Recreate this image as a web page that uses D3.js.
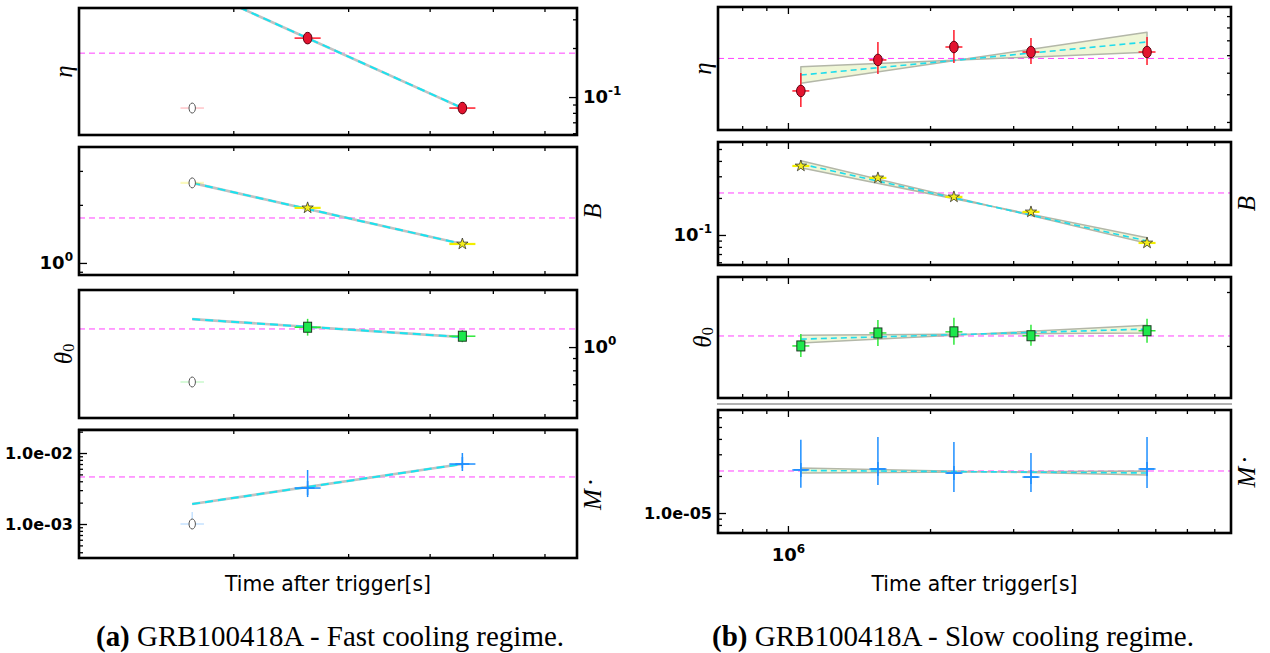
<!DOCTYPE html>
<html>
<head>
<meta charset="utf-8">
<script src="https://cdn.jsdelivr.net/npm/d3@7"></script>
<style>
  html, body { margin: 0; padding: 0; background: #fff; }
  svg { display: block; }
</style>
</head>
<body>
<div id="chart"></div>
<script>
// (a) fast cooling regime
const fastTime = [1.73e5, 2.6e5, 4.49e5]
const fastTimeErr = [0.018, 0.02, 0.02] // dex
const fastUsed = [false, true, true]
const fastTimeRange = [1.16e5, 6.73e5]

const fastEta = [0.0856, 0.230, 0.0856]
const fastEtaErr = [0.025, 0.03, 0.037]
const fastEtaFit = [0.48, 0.0856]
const fastEtaRef = 0.186
const fastEtaRange = [0.0585, 0.352]

const fastB = [2.60, 1.93, 1.254]
const fastBErr = [0.008, 0.01, 0.01]
const fastBFit = [2.60, 1.254]
const fastBRef = 1.71
const fastBRange = [0.866, 3.99]

const fastTheta = [0.715, 1.21, 1.11]
const fastThetaErr = [0.02, 0.035, 0.025]
const fastThetaFit = [1.308, 1.10]
const fastThetaRef = 1.19
const fastThetaRange = [0.506, 1.73]

const fastMdot = [1.0e-3, 3.21e-3, 7.0e-3]
const fastMdotErrUp = [0.17, 0.254, 0.155]
const fastMdotErrDn = [0.05, 0.127, 0.056]
const fastMdotFit = [1.91e-3, 7.0e-3]
const fastMdotRef = 4.6e-3
const fastMdotRange = [3.32e-4, 0.0211]

// (b) slow cooling regime
const slowTime = [1.065e6, 1.551e6, 2.247e6, 3.272e6, 5.763e6]
const slowTimeErr = [0.018, 0.018, 0.018, 0.018, 0.018]
const slowUsed = [true, true, true, true, true]
const slowTimeRange = [7.11e5, 8.68e6]

const slowEta = [0.414, 0.571, 0.653, 0.620, 0.620]
const slowEtaErrUp = [0.081, 0.081, 0.077, 0.063, 0.068]
const slowEtaErrDn = [0.072, 0.063, 0.072, 0.054, 0.059]
const slowEtaFit = [0.488, 0.688]
const slowEtaBandA = [0.532, 0.619]
const slowEtaBandB = [0.448, 0.761]
const slowEtaRef = 0.580
const slowEtaRange = [0.276, 0.989]

const slowB = [0.364, 0.291, 0.204, 0.154, 0.0861]
const slowBErr = [0.012, 0.012, 0.012, 0.012, 0.012]
const slowBFit = [0.378, 0.0894]
const slowBBandA = [0.402, 0.0858]
const slowBBandB = [0.352, 0.0950]
const slowBRef = 0.2195
const slowBRange = [0.057, 0.57]

const slowTheta = [0.800, 0.823, 0.825, 0.818, 0.827]
const slowThetaErrUp = [0.0114, 0.0123, 0.0133, 0.0104, 0.0114]
const slowThetaErrDn = [0.0104, 0.0123, 0.0123, 0.0095, 0.0114]
const slowThetaFit = [0.812, 0.830]
const slowThetaBandA = [0.819, 0.823]
const slowThetaBandB = [0.805, 0.837]
const slowThetaRef = 0.8176
const slowThetaRange = [0.714, 0.93]

const slowMdot = [2.24e-5, 2.28e-5, 2.11e-5, 1.96e-5, 2.28e-5]
const slowMdotErrUp = [0.244, 0.26, 0.252, 0.195, 0.26]
const slowMdotErrDn = [0.146, 0.13, 0.154, 0.122, 0.154]
const slowMdotFit = [2.216e-5, 2.114e-5]
const slowMdotBandA = [2.32e-5, 2.036e-5]
const slowMdotBandB = [2.114e-5, 2.195e-5]
const slowMdotRef = 2.195e-5
const slowMdotRange = [6.88e-6, 6.87e-5]

const captionTags = ['(a)', '(b)']
const captions = ['GRB100418A - Fast cooling regime.', 'GRB100418A - Slow cooling regime.']

const svg = d3.select('#chart').append('svg').attr('width', 1270).attr('height', 653)

const tickFont = 'DejaVu Sans, sans-serif'
const mathFont = 'Liberation Serif, DejaVu Serif, serif'

function logTicks([lo, hi]) {
  const out = []
  for (let k = Math.floor(Math.log10(lo)); k <= Math.ceil(Math.log10(hi)); k++) {
    for (let m = 1; m < 10; m++) {
      const v = +(m * Math.pow(10, k)).toPrecision(6)
      if (v >= lo && v <= hi) out.push(v)
    }
  }
  return out
}
const isMajor = v => Math.abs(Math.log10(v) - Math.round(Math.log10(v))) < 1e-6

function sciText(v) {
  const k = Math.round(Math.log10(v))
  return '1.0e' + (k < 0 ? '-' : '+') + String(Math.abs(k)).padStart(2, '0')
}

// only the decades get a label
function styleTicks(axisG, fmt, dir) {
  axisG.select('.domain').remove()
  axisG.selectAll('.tick line').attr('stroke', '#000').attr('stroke-width', 1.3)
  axisG.selectAll('.tick').each(function (d) {
    const tick = d3.select(this)
    const ln = tick.select('line')
    if (isMajor(d) && dir === 'h') ln.attr('x2', +ln.attr('x2') * 2)
    const txt = tick.select('text')
    txt.attr('font-family', tickFont).attr('font-weight', 'bold').attr('fill', '#000')
    if (!fmt || !isMajor(d)) { txt.text(''); return }
    if (fmt === 'sci') {
      txt.attr('font-size', 16).text(sciText(d))
    } else {
      txt.attr('font-size', 18).text('10')
      txt.append('tspan').attr('dy', -8).attr('font-size', 12).text(Math.round(Math.log10(d)))
    }
  })
}

function drawMarker(g, type, cx, cy, used) {
  if (!used) {
    g.append('ellipse').attr('cx', cx).attr('cy', cy).attr('rx', 3.2).attr('ry', 5)
      .attr('fill', '#fff').attr('stroke', '#555').attr('stroke-width', 1)
    return
  }
  if (type === 'circle') {
    g.append('ellipse').attr('cx', cx).attr('cy', cy).attr('rx', 4.3).attr('ry', 5.8)
      .attr('fill', '#e3132f').attr('stroke', '#5c0010').attr('stroke-width', 1)
  } else if (type === 'star') {
    g.append('path').attr('d', d3.symbol(d3.symbolStar, 40)())
      .attr('transform', `translate(${cx},${cy})`)
      .attr('fill', '#f4ee1c').attr('stroke', '#333').attr('stroke-width', 0.8)
  } else if (type === 'square') {
    g.append('rect').attr('x', cx - 4).attr('y', cy - 5).attr('width', 8).attr('height', 10)
      .attr('fill', '#1ee84c').attr('stroke', '#1c3a22').attr('stroke-width', 1)
  } else {
    g.append('line').attr('x1', cx - 7).attr('x2', cx + 7).attr('y1', cy).attr('y2', cy)
      .attr('stroke', '#1e8fff').attr('stroke-width', 1.6)
    g.append('line').attr('x1', cx).attr('x2', cx).attr('y1', cy - 7).attr('y2', cy + 7)
      .attr('stroke', '#1e8fff').attr('stroke-width', 1.6)
  }
}

const errColor = { circle: '#ff1a2a', star: '#f2ee00', square: '#2ee83a', plus: '#1e8fff' }

function drawPanel(fig, p, idx) {
  const [top, bottom] = fig.rows[idx]
  const x = d3.scaleLog().domain(fig.range).range([fig.left, fig.right])
  const y = d3.scaleLog().domain(p.range).range([bottom, top])
  const clipId = `clip-${fig.id}-${idx}`
  svg.append('clipPath').attr('id', clipId).append('rect')
    .attr('x', fig.left).attr('y', top).attr('width', fig.right - fig.left).attr('height', bottom - top)

  const plot = svg.append('g').attr('clip-path', `url(#${clipId})`)

  // reference level
  plot.append('line')
    .attr('x1', fig.left).attr('x2', fig.right)
    .attr('y1', y(p.ref)).attr('y2', y(p.ref))
    .attr('stroke', '#ff40ff').attr('stroke-width', 1).attr('stroke-dasharray', '6,4')

  const t0 = fig.time[0]
  const t1 = fig.time[fig.time.length - 1]

  if (p.bandA) {
    const pts = [[t0, p.bandA[0]], [t1, p.bandA[1]], [t1, p.bandB[1]], [t0, p.bandB[0]]]
    plot.append('path')
      .attr('d', d3.line().x(d => x(d[0])).y(d => y(d[1]))(pts) + 'Z')
      .attr('fill', '#eff6d6').attr('stroke', '#b3b7a8').attr('stroke-width', 1.5)
      .attr('stroke-linejoin', 'round')
    plot.append('line')
      .attr('x1', x(t0)).attr('y1', y(p.fit[0])).attr('x2', x(t1)).attr('y2', y(p.fit[1]))
      .attr('stroke', '#20dcec').attr('stroke-width', 1.6).attr('stroke-dasharray', '6,4')
  } else {
    plot.append('line')
      .attr('x1', x(t0)).attr('y1', y(p.fit[0])).attr('x2', x(t1)).attr('y2', y(p.fit[1]))
      .attr('stroke', '#c2c2c2').attr('stroke-width', 2.6)
    plot.append('line')
      .attr('x1', x(t0)).attr('y1', y(p.fit[0])).attr('x2', x(t1)).attr('y2', y(p.fit[1]))
      .attr('stroke', '#19e3f0').attr('stroke-width', 2).attr('stroke-dasharray', '8,5')
  }

  // error bars then markers
  fig.time.forEach((t, i) => {
    const v = p.values[i]
    const used = fig.used[i]
    const eb = plot.append('g').attr('stroke', errColor[p.marker])
      .attr('stroke-width', p.marker === 'star' ? 2.2 : 1.5)
      .attr('opacity', used ? 1 : 0.25)
    eb.append('line')
      .attr('x1', x(t / Math.pow(10, fig.timeErr[i]))).attr('x2', x(t * Math.pow(10, fig.timeErr[i])))
      .attr('y1', y(v)).attr('y2', y(v))
    eb.append('line')
      .attr('x1', x(t)).attr('x2', x(t))
      .attr('y1', y(v * Math.pow(10, p.errUp[i]))).attr('y2', y(v / Math.pow(10, p.errDn[i])))
    drawMarker(plot, p.marker, x(t), y(v), used)
  })

  // x ticks, top and bottom, pointing in
  const xt = logTicks(fig.range)
  const isLast = idx === fig.rows.length - 1
  const xb = svg.append('g').attr('transform', `translate(0,${bottom})`)
    .call(d3.axisBottom(x).tickValues(xt).tickSize(-4).tickPadding(15).tickFormat(d => d))
  styleTicks(xb, isLast && fig.xLabels ? 'pow' : null, 'v')
  xb.selectAll('.tick line').attr('y2', d => isMajor(d) ? -7 : -4)
  const xtop = svg.append('g').attr('transform', `translate(0,${top})`)
    .call(d3.axisTop(x).tickValues(xt).tickSize(-4).tickFormat(''))
  styleTicks(xtop, null, 'v')
  xtop.selectAll('.tick line').attr('y2', d => isMajor(d) ? 7 : 4)

  // y ticks on one side only
  const yt = logTicks(p.range)
  const onLeft = p.axis === 'left'
  const ax = (onLeft ? d3.axisLeft(y) : d3.axisRight(y))
    .tickValues(yt).tickSize(-4).tickPadding(6).tickFormat(d => d)
  const ya = svg.append('g').attr('transform', `translate(${onLeft ? fig.left : fig.right},0)`).call(ax)
  styleTicks(ya, p.fmt, 'h')

  // frame
  svg.append('rect').attr('x', fig.left).attr('y', top)
    .attr('width', fig.right - fig.left).attr('height', bottom - top)
    .attr('fill', 'none').attr('stroke', '#000').attr('stroke-width', 2.6)

  // parameter name
  const lx = p.labelSide === 'left' ? fig.left - 16 : fig.right + 15
  const ly = (top + bottom) / 2
  const lab = svg.append('text')
    .attr('transform', `translate(${lx},${ly}) rotate(-90)`)
    .attr('text-anchor', 'middle').attr('dominant-baseline', 'central')
    .attr('font-family', mathFont).attr('font-style', 'italic').attr('font-size', 25)
    .text(p.label[0])
  if (p.label[1] === '0') {
    lab.append('tspan').attr('font-style', 'normal').attr('font-size', 16).attr('dy', 5).text('0')
  } else if (p.label[1]) {
    lab.append('tspan').attr('font-style', 'normal').attr('dx', 3).attr('dy', -2).text(p.label[1])
  }

  if (idx === 2) {
    svg.append('line').attr('x1', fig.left - 1).attr('x2', fig.right + 1)
      .attr('y1', fig.sep).attr('y2', fig.sep)
      .attr('stroke', '#666').attr('stroke-width', 1.2)
  }
}

const fastFig = {
  id: 'fast', left: 79, right: 577, sep: 429, capX: 330, capW: 468,
  rows: [[8, 135], [147, 275], [290, 418], [430, 558]],
  time: fastTime, timeErr: fastTimeErr, used: fastUsed, range: fastTimeRange, xLabels: false
}
const slowFig = {
  id: 'slow', left: 718, right: 1231, sep: 404, capX: 953, capW: 482,
  rows: [[7, 130], [142, 265], [277, 398], [410, 533]],
  time: slowTime, timeErr: slowTimeErr, used: slowUsed, range: slowTimeRange, xLabels: true
}

const fastPanels = [
  { values: fastEta, errUp: fastEtaErr, errDn: fastEtaErr, fit: fastEtaFit, ref: fastEtaRef, range: fastEtaRange,
    marker: 'circle', axis: 'right', fmt: 'pow', labelSide: 'left', label: ['η'] },
  { values: fastB, errUp: fastBErr, errDn: fastBErr, fit: fastBFit, ref: fastBRef, range: fastBRange,
    marker: 'star', axis: 'left', fmt: 'pow', labelSide: 'right', label: ['B'] },
  { values: fastTheta, errUp: fastThetaErr, errDn: fastThetaErr, fit: fastThetaFit, ref: fastThetaRef, range: fastThetaRange,
    marker: 'square', axis: 'right', fmt: 'pow', labelSide: 'left', label: ['θ', '0'] },
  { values: fastMdot, errUp: fastMdotErrUp, errDn: fastMdotErrDn, fit: fastMdotFit, ref: fastMdotRef, range: fastMdotRange,
    marker: 'plus', axis: 'left', fmt: 'sci', labelSide: 'right', label: ['M', '·'] }
]
const slowPanels = [
  { values: slowEta, errUp: slowEtaErrUp, errDn: slowEtaErrDn, fit: slowEtaFit, bandA: slowEtaBandA, bandB: slowEtaBandB,
    ref: slowEtaRef, range: slowEtaRange, marker: 'circle', axis: 'right', fmt: 'pow', labelSide: 'left', label: ['η'] },
  { values: slowB, errUp: slowBErr, errDn: slowBErr, fit: slowBFit, bandA: slowBBandA, bandB: slowBBandB,
    ref: slowBRef, range: slowBRange, marker: 'star', axis: 'left', fmt: 'pow', labelSide: 'right', label: ['B'] },
  { values: slowTheta, errUp: slowThetaErrUp, errDn: slowThetaErrDn, fit: slowThetaFit, bandA: slowThetaBandA, bandB: slowThetaBandB,
    ref: slowThetaRef, range: slowThetaRange, marker: 'square', axis: 'right', fmt: 'pow', labelSide: 'left', label: ['θ', '0'] },
  { values: slowMdot, errUp: slowMdotErrUp, errDn: slowMdotErrDn, fit: slowMdotFit, bandA: slowMdotBandA, bandB: slowMdotBandB,
    ref: slowMdotRef, range: slowMdotRange, marker: 'plus', axis: 'left', fmt: 'sci', labelSide: 'right', label: ['M', '·'] }
]

fastPanels.forEach((p, i) => drawPanel(fastFig, p, i))
slowPanels.forEach((p, i) => drawPanel(slowFig, p, i))

// x titles and captions
;[fastFig, slowFig].forEach((fig, i) => {
  svg.append('text')
    .attr('x', (fig.left + fig.right) / 2).attr('y', 591)
    .attr('text-anchor', 'middle')
    .attr('font-family', tickFont).attr('font-size', 21)
    .attr('textLength', 206).attr('lengthAdjust', 'spacingAndGlyphs')
    .text('Time after trigger[s]')

  const t = svg.append('text')
    .attr('x', fig.capX - fig.capW / 2).attr('y', 646)
    .attr('font-family', 'Liberation Serif, serif').attr('font-size', 29)
    .attr('textLength', fig.capW).attr('lengthAdjust', 'spacingAndGlyphs')
  t.append('tspan').attr('font-weight', 'bold').text(captionTags[i] + ' ')
  t.append('tspan').text(captions[i])
})
</script>
</body>
</html>
